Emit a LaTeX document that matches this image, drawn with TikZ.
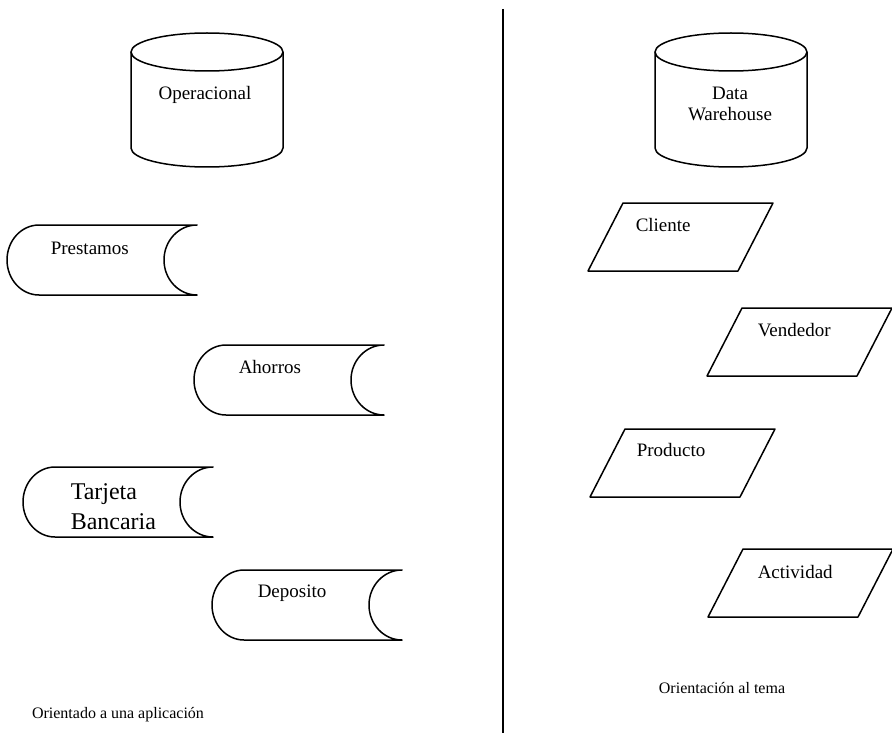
\documentclass[tikz,border=0pt]{standalone}
\usepackage{fontspec}
\setmainfont{Liberation Serif}
\begin{document}
\begin{tikzpicture}[x=1pt,y=-1pt,line width=1.5pt,line join=round,
  lbl/.style={inner sep=0pt,font=\fontsize{19}{21}\selectfont},
  captext/.style={inner sep=0pt,font=\fontsize{16}{18}\selectfont},
  storage/.pic={\draw (32,0) -- (190,0) arc[start angle=90,end angle=270,x radius=33pt,y radius=35pt] -- (32,70) arc[start angle=270,end angle=90,x radius=32pt,y radius=35pt] -- cycle;},
  parall/.pic={\draw (35,0) -- (185,0) -- (150,68) -- (0,68) -- cycle;},
  dbcyl/.pic={\draw (0,0) arc[start angle=180,end angle=-180,x radius=76pt,y radius=19pt];
    \draw (0,0) -- (0,96) arc[start angle=180,end angle=360,x radius=76pt,y radius=19pt] -- (152,0);}]
\useasboundingbox (0,0) rectangle (892,733);
% divider
\coordinate (dtop) at (503,9);
\coordinate (dbot) at (503,733);
\draw[line width=1.1pt] (dtop) -- (dbot);
% cylinders
\pic at (131,52) {dbcyl};
\node[lbl] (oper) at (205,95) {Operacional};
\pic at (655,52) {dbcyl};
\node[lbl,align=center] (dw) at (730,104) {Data\\Warehouse};
% storage shapes
\pic at (7,225) {storage};
\node[lbl,anchor=west] (prest) at (50,248) {Prestamos};
\pic at (194,345) {storage};
\node[lbl,anchor=west] (ahor) at (238,367) {Ahorros};
\pic at (23,467) {storage};
\node[inner sep=0pt,anchor=west,font=\fontsize{24}{30}\selectfont,align=left] (tarj) at (70,507) {Tarjeta\\Bancaria};
\pic at (212,570) {storage};
\node[lbl,anchor=west] (depo) at (257,593) {Deposito};
% parallelograms
\pic at (588,203) {parall};
\node[lbl,anchor=west] (cli) at (635,225) {Cliente};
\pic at (707,308) {parall};
\node[lbl,anchor=west] (ven) at (757,330) {Vendedor};
\pic at (590,429) {parall};
\node[lbl,anchor=west] (prod) at (636,450) {Producto};
\pic at (708,549) {parall};
\node[lbl,anchor=west] (act) at (757,572) {Actividad};
% captions
\node[captext] (capl) at (118,715) {Orientado a una aplicación};
\node[captext] (capr) at (722,688) {Orientación al tema};
\end{tikzpicture}
\end{document}
